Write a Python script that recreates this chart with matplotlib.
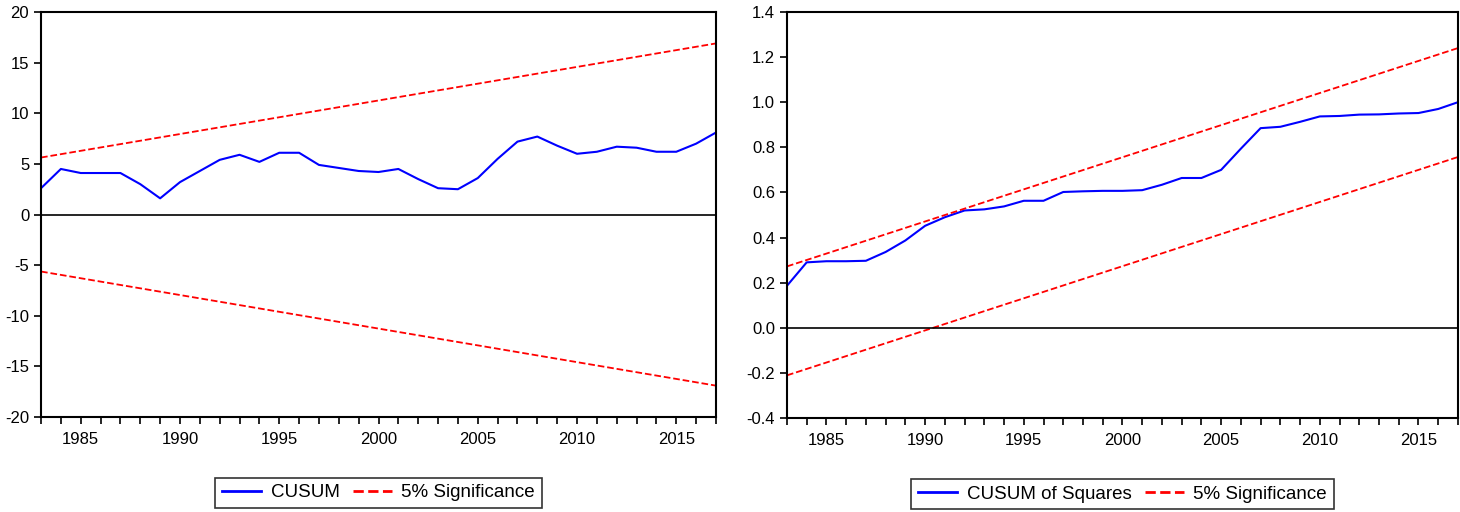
import numpy as np
import matplotlib.pyplot as plt
from matplotlib.ticker import MultipleLocator

plt.rcParams['font.family'] = ['Liberation Sans', 'DejaVu Sans']
plt.rcParams['axes.unicode_minus'] = False

# Datos
anios = np.arange(1983, 2018)
cusum = [2.6, 4.5, 4.1, 4.1, 4.1, 3.0, 1.6, 3.2, 4.3, 5.4, 5.9, 5.2, 6.1, 6.1,
         4.9, 4.6, 4.3, 4.2, 4.5, 3.5, 2.6, 2.5, 3.6, 5.5, 7.2, 7.7, 6.8, 6.0,
         6.2, 6.7, 6.6, 6.2, 6.2, 7.0, 8.1]
cusum_sig = [5.63, 16.9]   # banda en 1983 y 2017 (simetrica)

cusum_sq = [0.186, 0.29, 0.295, 0.295, 0.297, 0.336, 0.387, 0.452, 0.49, 0.52,
            0.525, 0.538, 0.563, 0.563, 0.602, 0.605, 0.607, 0.607, 0.61, 0.634,
            0.664, 0.664, 0.70, 0.794, 0.885, 0.891, 0.913, 0.937, 0.939, 0.945,
            0.946, 0.95, 0.952, 0.97, 1.0]
sq_sup = [0.272, 1.24]
sq_inf = [-0.211, 0.757]
extremos = [1983, 2017]

fig = plt.figure(figsize=(14.6, 5.12), dpi=100)
ax1 = fig.add_axes([0.0281, 0.1855, 0.4623, 0.791])
ax2 = fig.add_axes([0.539, 0.1836, 0.4596, 0.793])


def estilo(ax):
    ax.set_xlim(1983, 2017)
    ax.xaxis.set_minor_locator(MultipleLocator(1))
    ax.set_xticks([1985, 1990, 1995, 2000, 2005, 2010, 2015])
    ax.tick_params(axis='both', which='both', direction='out', length=5,
                   width=1.2, labelsize=12, top=False, right=False)
    ax.tick_params(axis='x', which='major', pad=6)
    for s in ax.spines.values():
        s.set_linewidth(1.5)
    ax.axhline(0, color='black', lw=1.2)


ax1.plot(anios, cusum, color='blue', lw=1.5, label='CUSUM')
ax1.plot(extremos, cusum_sig, color='red', ls='--', lw=1.3, label='5% Significance')
ax1.plot(extremos, [-v for v in cusum_sig], color='red', ls='--', lw=1.3)
ax1.set_ylim(-20, 20)
ax1.set_yticks([-20, -15, -10, -5, 0, 5, 10, 15, 20])
estilo(ax1)

ax2.plot(anios, cusum_sq, color='blue', lw=1.5, label='CUSUM of Squares')
ax2.plot(extremos, sq_sup, color='red', ls='--', lw=1.3, label='5% Significance')
ax2.plot(extremos, sq_inf, color='red', ls='--', lw=1.3)
ax2.set_ylim(-0.4, 1.4)
ax2.set_yticks(np.arange(-0.4, 1.41, 0.2))
ax2.set_yticklabels(['%.1f' % v for v in np.arange(-0.4, 1.41, 0.2)])
estilo(ax2)

for ax in (ax1, ax2):
    leg = ax.legend(loc='upper center', bbox_to_anchor=(0.5, -0.15), ncol=2,
                    fontsize=13.5, frameon=True, fancybox=False,
                    borderaxespad=0, handlelength=2.1, handletextpad=0.5,
                    columnspacing=0.7, borderpad=0.35)
    leg.get_frame().set_edgecolor('black')
    leg.get_frame().set_linewidth(1.2)
    for h in leg.get_lines():
        h.set_linewidth(2)

fig.savefig('out.png', dpi=100)
